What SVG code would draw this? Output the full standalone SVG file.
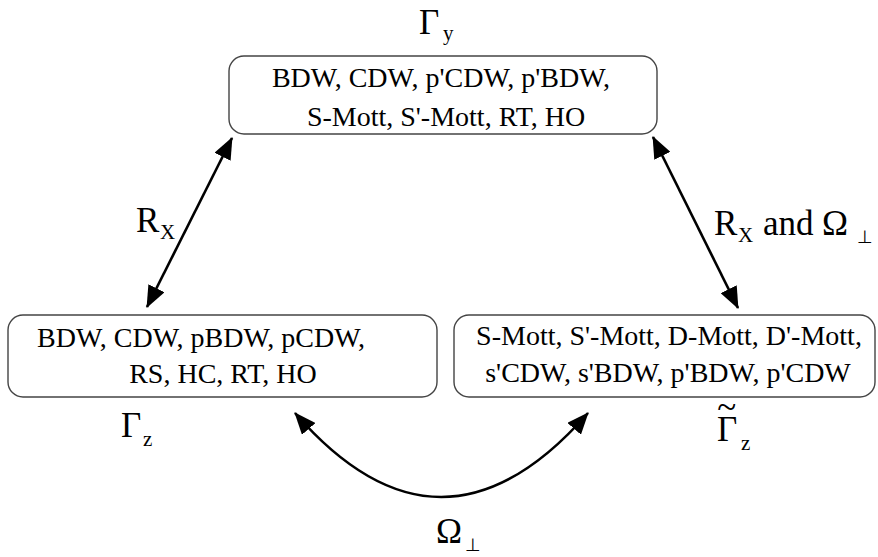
<svg xmlns="http://www.w3.org/2000/svg" width="878" height="557" viewBox="0 0 878 557">
<style>
  .box{fill:#fff;stroke:#444;stroke-width:1.4}
  text{fill:#000;font-family:'Liberation Serif','Times New Roman',serif}
  .t{font-size:28px;text-anchor:middle}
  .lab{font-size:35px}
  .sub{font-size:21px}
  .sym{font-family:'DejaVu Sans',sans-serif;font-size:18px}
  .conn{fill:none;stroke:#000;stroke-width:2.6}
</style>
<defs>
  <marker id="ah" markerUnits="userSpaceOnUse" markerWidth="22" markerHeight="18" viewBox="0 0 22 18" refX="21" refY="9" orient="auto-start-reverse">
    <path d="M0,0 L22,9 L0,18 z" fill="#000"/>
  </marker>
</defs>
<rect width="878" height="557" fill="#fff"/>
<g id="gamma-y">
  <rect class="box" x="229" y="56" width="428" height="78" rx="15"/>
  <text class="t" x="441" y="87">BDW, CDW, p'CDW, p'BDW,</text>
  <text class="t" x="446" y="126">S-Mott, S'-Mott, RT, HO</text>
  <text class="lab" x="419" y="34">Γ</text>
  <text class="sub" x="443" y="40">y</text>
</g>
<g id="gamma-z">
  <rect class="box" x="8" y="315" width="429" height="82" rx="15"/>
  <text class="t" x="201" y="347">BDW, CDW, pBDW, pCDW,</text>
  <text class="t" x="223" y="383">RS, HC, RT, HO</text>
  <text class="lab" x="121" y="437">Γ</text>
  <text class="sub" x="143" y="446">z</text>
</g>
<g id="gamma-z-tilde">
  <rect class="box" x="454" y="315" width="421" height="82" rx="15"/>
  <text class="t" x="669" y="345">S-Mott, S'-Mott, D-Mott, D'-Mott,</text>
  <text class="t" x="668" y="382">s'CDW, s'BDW, p'BDW, p'CDW</text>
  <text class="lab" x="717" y="441">Γ<tspan dx="-20" dy="-22">~</tspan></text>
  <text class="sub" x="741" y="450">z</text>
</g>
<g id="connectors">
  <path class="conn" d="M147,307 L232,138" marker-start="url(#ah)" marker-end="url(#ah)"/>
  <path class="conn" d="M653,137 L738,308" marker-start="url(#ah)" marker-end="url(#ah)"/>
  <path class="conn" d="M295,413 Q441,581 588,413" marker-start="url(#ah)" marker-end="url(#ah)"/>
</g>
<g id="labels">
  <text class="lab" x="136" y="232">R</text>
  <text class="sub" x="160" y="239">X</text>
  <text class="lab" x="714" y="235">R</text>
  <text class="sub" x="738" y="242">X</text>
  <text class="lab" x="763" y="235">and</text>
  <text class="lab" x="822" y="235">Ω</text>
  <text class="sym" x="857" y="243">⊥</text>
  <text class="lab" x="436" y="543">Ω</text>
  <text class="sym" x="465" y="551">⊥</text>
</g>
</svg>
